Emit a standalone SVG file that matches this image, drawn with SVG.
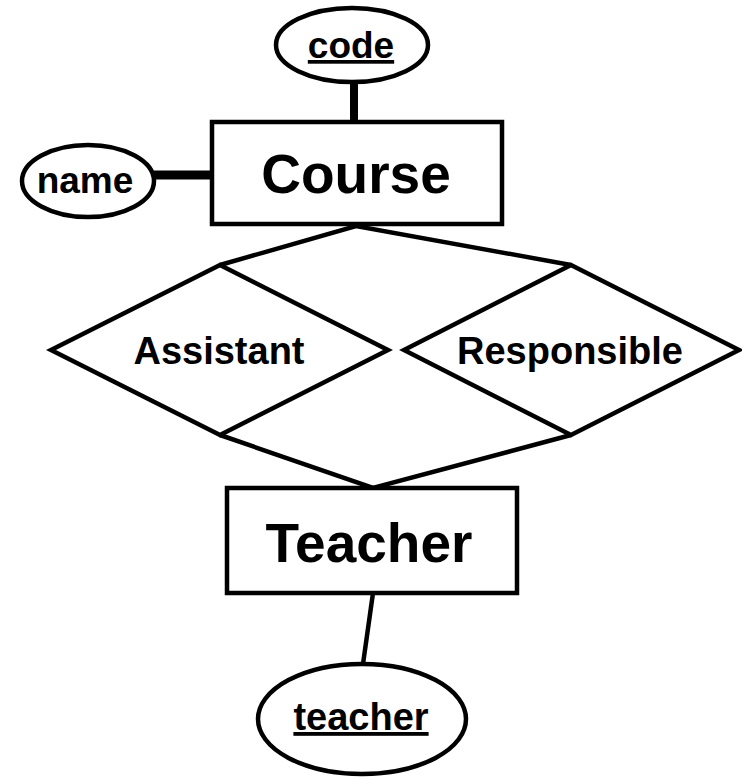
<svg xmlns="http://www.w3.org/2000/svg" width="742" height="778" viewBox="0 0 742 778">
  <style>
    .shape { fill: #fff; stroke: #000; stroke-width: 4.5; stroke-linejoin: miter; }
    .link { stroke: #000; stroke-width: 4.5; fill: none; }
    .thick { stroke-width: 8; }
    text { font-family: "Liberation Sans", Arial, sans-serif; font-weight: bold; fill: #000; text-anchor: middle; }
    .entity { font-size: 55px; }
    .rel { font-size: 38px; }
    .attr { font-size: 37px; }
    .big { font-size: 38px; }
    .key { text-decoration: underline; }
  </style>

  <!-- connectors -->
  <g id="connectors">
    <line class="link thick" x1="354" y1="80" x2="354" y2="124"/>
    <line class="link" style="stroke-width:9" x1="153" y1="175" x2="214" y2="175"/>
    <polyline class="link" points="220,265 356,226 571,265"/>
    <polyline class="link" points="220,435 373,488 571,435"/>
    <line class="link" x1="373" y1="593" x2="363" y2="664"/>
  </g>

  <!-- entity: Course -->
  <g id="course">
    <rect class="shape" x="212" y="122" width="290" height="102"/>
    <text class="entity" x="356" y="193">Course</text>
  </g>

  <!-- attribute: code (key) -->
  <g id="attr-code">
    <ellipse class="shape" cx="352" cy="45" rx="76" ry="37"/>
    <text class="attr key" x="351" y="58">code</text>
  </g>

  <!-- attribute: name -->
  <g id="attr-name">
    <ellipse class="shape" cx="88" cy="181" rx="66" ry="36"/>
    <text class="attr" x="85" y="193">name</text>
  </g>

  <!-- relationship: Assistant -->
  <g id="rel-assistant">
    <polygon class="shape" points="51,350 220,265 388,350 220,435"/>
    <text class="rel" x="219" y="364">Assistant</text>
  </g>

  <!-- relationship: Responsible -->
  <g id="rel-responsible">
    <polygon class="shape" points="404,350 571,265 739,350 571,435"/>
    <text class="rel" x="570" y="364">Responsible</text>
  </g>

  <!-- entity: Teacher -->
  <g id="teacher">
    <rect class="shape" x="227" y="488" width="290" height="105"/>
    <text class="entity" x="369" y="562">Teacher</text>
  </g>

  <!-- attribute: teacher (key) -->
  <g id="attr-teacher">
    <ellipse class="shape" cx="362" cy="719" rx="104" ry="55"/>
    <text class="attr big key" x="361" y="730">teacher</text>
  </g>
</svg>
